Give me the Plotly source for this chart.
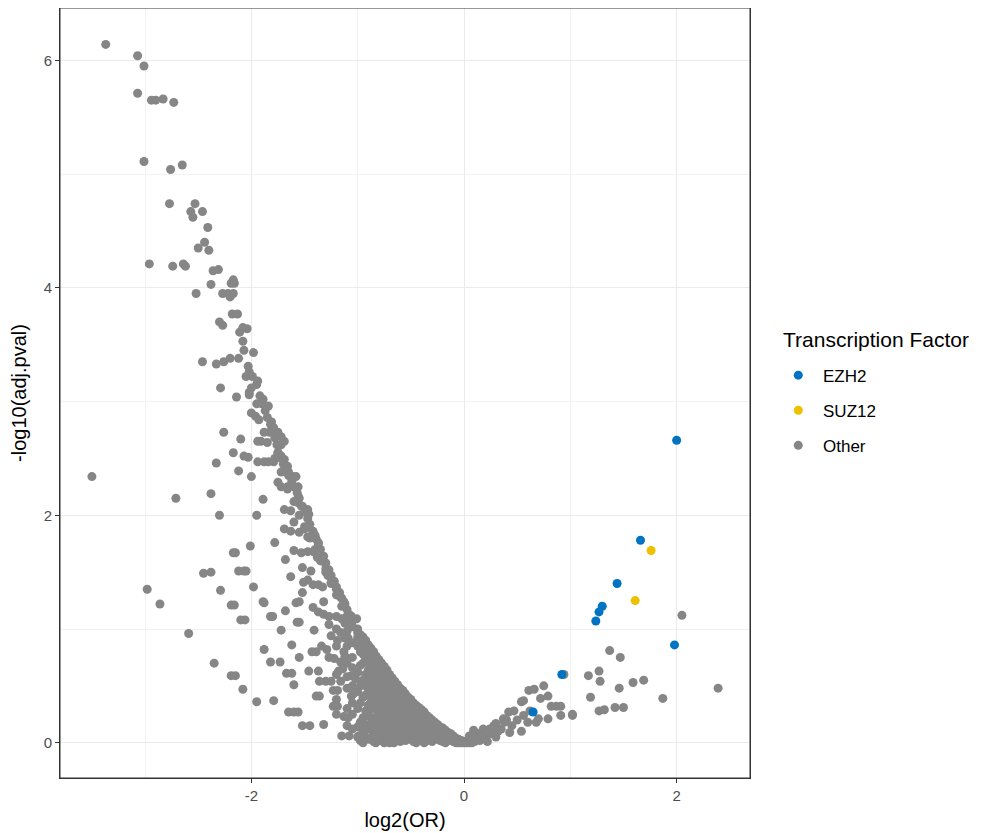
import plotly.graph_objects as go

# ---- Data ----
ezh2_x = [2.00, 1.66, 1.44, 1.30, 1.27, 1.24, 1.98, 0.92, 0.65]
ezh2_y = [2.66, 1.78, 1.40, 1.20, 1.15, 1.07, 0.86, 0.60, 0.27]

suz12_x = [1.76, 1.61]
suz12_y = [1.69, 1.25]

other_pts = [
    (-3.37, 6.14), (-3.07, 6.04), (-3.01, 5.95), (-3.07, 5.71), (-2.94, 5.65), (-2.90, 5.65),
    (-2.83, 5.66), (-2.73, 5.63), (-3.01, 5.11), (-2.76, 5.04), (-2.65, 5.08), (-2.77, 4.74),
    (-2.53, 4.74), (-2.57, 4.67), (-2.55, 4.62), (-2.46, 4.67), (-2.41, 4.53), (-2.44, 4.40),
    (-2.50, 4.35), (-2.40, 4.33), (-2.96, 4.21), (-2.74, 4.19), (-2.64, 4.21), (-2.62, 4.19),
    (-2.36, 4.15), (-2.31, 4.16), (-2.17, 4.07),
    (-2.38, 4.03), (-2.19, 4.04), (-2.16, 4.04), (-2.52, 3.95), (-2.27, 3.95), (-2.22, 3.95),
    (-2.17, 3.95), (-2.20, 3.92), (-2.18, 3.77), (-2.13, 3.77), (-2.30, 3.70), (-2.27, 3.67),
    (-2.08, 3.65), (-2.04, 3.64), (-2.11, 3.61), (-2.08, 3.53), (-2.07, 3.45), (-1.98, 3.43),
    (-2.46, 3.35), (-2.33, 3.33), (-2.26, 3.35), (-2.20, 3.38), (-2.12, 3.38), (-2.03, 3.31),
    (-2.02, 3.26), (-2.05, 3.22), (-1.99, 3.22), (-1.94, 3.18), (-2.29, 3.12), (-2.14, 3.04),
    (-2.00, 3.12), (-2.02, 3.08), (-2.02, 3.06), (-1.89, 3.02), (-1.84, 2.96), (-1.95, 2.98),
    (-2.00, 2.90), (-1.93, 2.84), (-1.96, 2.87),
    (-1.81, 2.82), (-1.79, 2.77), (-1.83, 2.73), (-1.75, 2.73), (-1.72, 2.69), (-1.69, 2.65),
    (-1.88, 2.73), (-1.91, 2.65), (-1.94, 2.65), (-1.85, 2.64), (-1.72, 2.62),
    (-2.26, 2.73), (-2.10, 2.67), (-2.17, 2.55), (-2.33, 2.46), (-2.07, 2.52), (-2.03, 2.51),
    (-1.94, 2.47), (-1.88, 2.47), (-1.84, 2.47), (-1.79, 2.47), (-1.75, 2.55), (-1.72, 2.52),
    (-1.69, 2.49), (-1.66, 2.43), (-1.65, 2.38), (-1.61, 2.34), (-1.58, 2.34), (-2.12, 2.39),
    (-2.00, 2.34), (-1.75, 2.29), (-1.72, 2.25), (-1.66, 2.23), (-1.56, 2.25), (-1.56, 2.17),
    (-1.56, 2.11), (-1.53, 2.08), (-2.38, 2.19), (-1.89, 2.14), (-1.69, 2.05), (-1.63, 2.04),
    (-1.47, 2.05), (-1.46, 2.01), (-2.30, 2.00), (-1.95, 2.00),
    (-3.50, 2.34), (-2.71, 2.15),
    (-1.60, 1.94), (-1.69, 1.88), (-1.63, 1.86), (-1.55, 1.85), (-1.50, 1.88), (-1.46, 1.90),
    (-1.42, 1.85), (-1.47, 1.81), (-1.39, 1.79), (-1.37, 1.75), (-1.78, 1.76), (-2.01, 1.73),
    (-1.60, 1.69), (-1.53, 1.67), (-1.47, 1.68), (-1.42, 1.68), (-1.38, 1.63), (-1.35, 1.61),
    (-1.32, 1.59), (-1.68, 1.61), (-2.17, 1.67), (-2.15, 1.67), (-2.07, 1.51), (-2.05, 1.51),
    (-1.52, 1.54), (-1.44, 1.51), (-1.30, 1.53), (-1.28, 1.47), (-1.63, 1.46), (-2.45, 1.49),
    (-2.38, 1.50), (-2.12, 1.51),
    (-1.51, 1.41), (-1.47, 1.43), (-1.42, 1.39), (-1.37, 1.39), (-1.33, 1.37), (-1.25, 1.41),
    (-1.20, 1.35), (-1.18, 1.31), (-1.98, 1.37), (-2.29, 1.34), (-2.98, 1.35), (-2.86, 1.22),
    (-2.19, 1.21), (-2.16, 1.21), (-1.89, 1.24), (-1.88, 1.23), (-1.58, 1.23), (-1.55, 1.24),
    (-1.52, 1.32), (-1.32, 1.24), (-1.16, 1.28), (-1.13, 1.24),
    (-1.42, 1.19), (-1.37, 1.15), (-1.32, 1.13), (-1.27, 1.11), (-1.20, 1.11), (-1.15, 1.09),
    (-1.10, 1.11), (-1.06, 1.11), (-1.01, 1.09), (-1.82, 1.11), (-1.80, 1.11), (-1.68, 1.16),
    (-2.10, 1.08), (-2.06, 1.08), (-1.57, 1.06), (-1.55, 1.06), (-1.72, 0.99), (-1.41, 0.99),
    (-1.27, 1.04), (-1.25, 0.94), (-1.19, 0.90), (-1.16, 0.97), (-1.09, 0.92), (-1.00, 0.97),
    (-0.97, 0.91),
    (-2.59, 0.96), (-1.88, 0.82), (-1.62, 0.86), (-1.43, 0.80), (-1.39, 0.80), (-1.34, 0.85),
    (-1.29, 0.82), (-1.27, 0.75), (-1.22, 0.74), (-1.16, 0.71), (-1.13, 0.80), (-1.55, 0.75),
    (-1.82, 0.71), (-1.73, 0.71), (-1.67, 0.61), (-1.62, 0.61), (-1.46, 0.63), (-1.37, 0.63),
    (-1.60, 0.51), (-1.36, 0.54), (-1.30, 0.54), (-1.25, 0.54), (-1.23, 0.46), (-1.19, 0.46),
    (-1.16, 0.54), (-1.18, 0.63), (-1.14, 0.65), (-1.06, 0.59), (-1.02, 0.56),
    (-2.35, 0.70), (-2.19, 0.59), (-2.15, 0.59), (-2.08, 0.47), (-1.95, 0.36), (-1.79, 0.37),
    (-1.39, 0.41), (-1.36, 0.41), (-1.06, 0.41), (-1.04, 0.43), (-1.65, 0.27), (-1.60, 0.27),
    (-1.56, 0.27), (-1.23, 0.32), (-1.19, 0.32), (-1.52, 0.15), (-1.45, 0.15), (-1.32, 0.16),
    (-1.09, 0.22), (-1.13, 0.23), (-1.15, 0.06), (-1.08, 0.06), (-0.99, 0.06), (-0.95, 0.00),
    (-0.83, 0.00), (-0.75, 0.00), (-0.66, 0.00),
    # ridge
    (-1.95, 3.15), (-1.92, 3.05), (-1.90, 2.98), (-1.87, 2.92), (-1.85, 2.86), (-1.82, 2.80),
    (-1.80, 2.74), (-1.78, 2.68), (-1.76, 2.62),
    (-1.75, 2.55), (-1.72, 2.50), (-1.70, 2.45), (-1.68, 2.40), (-1.65, 2.35), (-1.62, 2.30),
    (-1.60, 2.25), (-1.57, 2.20), (-1.55, 2.15), (-1.52, 2.08), (-1.50, 2.03), (-1.47, 1.97),
    (-1.45, 1.92), (-1.42, 1.86), (-1.40, 1.82), (-1.37, 1.76), (-1.35, 1.70), (-1.32, 1.64),
    (-1.30, 1.58), (-1.27, 1.52), (-1.25, 1.47), (-1.22, 1.42), (-1.20, 1.37), (-1.17, 1.32),
    (-1.15, 1.27), (-1.12, 1.22), (-1.10, 1.17), (-1.07, 1.12), (-1.05, 1.07),
    (-1.78, 2.50), (-1.72, 2.38), (-1.66, 2.25), (-1.60, 2.12), (-1.55, 2.00), (-1.50, 1.90),
    (-1.45, 1.80), (-1.40, 1.70), (-1.35, 1.60), (-1.30, 1.50), (-1.25, 1.40), (-1.20, 1.30),
    (-1.15, 1.20), (-1.10, 1.10),
    # dense cluster
    (-1.20, 1.00), (-1.20, 0.85), (-1.20, 0.60), (-1.20, 0.38), (-1.20, 0.25),
    (-1.12, 1.05), (-1.12, 0.92), (-1.12, 0.76),
    (-1.10, 0.98), (-1.10, 0.85), (-1.10, 0.70), (-1.10, 0.58), (-1.10, 0.48), (-1.10, 0.30),
    (-1.10, 0.15),
    (-1.05, 1.02), (-1.05, 0.88), (-1.05, 0.75), (-1.05, 0.66), (-1.05, 0.50), (-1.05, 0.35),
    (-1.05, 0.25), (-1.05, 0.12),
    (-1.00, 1.00), (-1.00, 0.93), (-1.00, 0.85), (-1.00, 0.62), (-1.00, 0.45), (-1.00, 0.30),
    (-1.00, 0.14), (-1.00, 0.05),
    (-0.975, 0.95), (-0.975, 0.80), (-0.975, 0.68), (-0.975, 0.50), (-0.975, 0.35),
    (-0.975, 0.18), (-0.975, 0.02),
    (-0.95, 0.93), (-0.95, 0.86), (-0.95, 0.78), (-0.95, 0.70), (-0.95, 0.55), (-0.95, 0.40),
    (-0.95, 0.22), (-0.95, 0.10),
    (-0.925, 0.90), (-0.925, 0.82), (-0.925, 0.74), (-0.925, 0.60), (-0.925, 0.50),
    (-0.925, 0.42), (-0.925, 0.28), (-0.925, 0.16), (-0.925, 0.05),
    (-0.90, 0.86), (-0.90, 0.79), (-0.90, 0.72), (-0.90, 0.64), (-0.90, 0.56), (-0.90, 0.47),
    (-0.90, 0.33), (-0.90, 0.25), (-0.90, 0.12), (-0.90, 0.03),
    (-0.875, 0.83), (-0.875, 0.76), (-0.875, 0.68), (-0.875, 0.60), (-0.875, 0.53),
    (-0.875, 0.44), (-0.875, 0.36), (-0.875, 0.22), (-0.875, 0.14), (-0.875, 0.04),
    (-0.85, 0.80), (-0.85, 0.73), (-0.85, 0.66), (-0.85, 0.58), (-0.85, 0.50), (-0.85, 0.40),
    (-0.85, 0.30), (-0.85, 0.18), (-0.85, 0.08), (-0.85, 0.01),
    (-0.825, 0.76), (-0.825, 0.69), (-0.825, 0.62), (-0.825, 0.55), (-0.825, 0.48),
    (-0.825, 0.39), (-0.825, 0.31), (-0.825, 0.23), (-0.825, 0.15), (-0.825, 0.06),
    (-0.80, 0.73), (-0.80, 0.66), (-0.80, 0.59), (-0.80, 0.52), (-0.80, 0.44), (-0.80, 0.36),
    (-0.80, 0.27), (-0.80, 0.20), (-0.80, 0.11), (-0.80, 0.02),
    (-0.775, 0.70), (-0.775, 0.63), (-0.775, 0.56), (-0.775, 0.48), (-0.775, 0.41),
    (-0.775, 0.33), (-0.775, 0.23), (-0.775, 0.13), (-0.775, 0.05),
    (-0.75, 0.67), (-0.75, 0.60), (-0.75, 0.52), (-0.75, 0.45), (-0.75, 0.38), (-0.75, 0.28),
    (-0.75, 0.17), (-0.75, 0.09), (-0.75, 0.03),
    (-0.725, 0.64), (-0.725, 0.57), (-0.725, 0.50), (-0.725, 0.42), (-0.725, 0.35),
    (-0.725, 0.27), (-0.725, 0.20), (-0.725, 0.11), (-0.725, 0.03),
    (-0.70, 0.60), (-0.70, 0.53), (-0.70, 0.46), (-0.70, 0.39), (-0.70, 0.32), (-0.70, 0.24),
    (-0.70, 0.15), (-0.70, 0.07), (-0.70, 0.00),
    (-0.675, 0.57), (-0.675, 0.50), (-0.675, 0.43), (-0.675, 0.36), (-0.675, 0.29),
    (-0.675, 0.22), (-0.675, 0.14), (-0.675, 0.06),
    (-0.65, 0.54), (-0.65, 0.47), (-0.65, 0.40), (-0.65, 0.33), (-0.65, 0.26), (-0.65, 0.20),
    (-0.65, 0.11), (-0.65, 0.04),
    (-0.625, 0.51), (-0.625, 0.44), (-0.625, 0.37), (-0.625, 0.30), (-0.625, 0.23),
    (-0.625, 0.16), (-0.625, 0.09), (-0.625, 0.02),
    (-0.60, 0.48), (-0.60, 0.41), (-0.60, 0.34), (-0.60, 0.27), (-0.60, 0.19), (-0.60, 0.12),
    (-0.60, 0.06), (-0.60, 0.01),
    (-0.575, 0.46), (-0.575, 0.39), (-0.575, 0.32), (-0.575, 0.25), (-0.575, 0.18),
    (-0.575, 0.11), (-0.575, 0.04),
    (-0.55, 0.43), (-0.55, 0.36), (-0.55, 0.29), (-0.55, 0.22), (-0.55, 0.15), (-0.55, 0.08),
    (-0.55, 0.02),
    (-0.525, 0.40), (-0.525, 0.33), (-0.525, 0.26), (-0.525, 0.19), (-0.525, 0.12),
    (-0.525, 0.05),
    (-0.50, 0.38), (-0.50, 0.31), (-0.50, 0.24), (-0.50, 0.17), (-0.50, 0.10), (-0.50, 0.03),
    (-0.475, 0.35), (-0.475, 0.28), (-0.475, 0.21), (-0.475, 0.14), (-0.475, 0.07),
    (-0.475, 0.01),
    (-0.45, 0.33), (-0.45, 0.26), (-0.45, 0.19), (-0.45, 0.12), (-0.45, 0.05), (-0.45, 0.00),
    (-0.425, 0.31), (-0.425, 0.24), (-0.425, 0.17), (-0.425, 0.10), (-0.425, 0.03),
    (-0.40, 0.29), (-0.40, 0.22), (-0.40, 0.15), (-0.40, 0.08), (-0.40, 0.02),
    (-0.375, 0.27), (-0.375, 0.20), (-0.375, 0.13), (-0.375, 0.06), (-0.375, 0.00),
    (-0.35, 0.24), (-0.35, 0.17), (-0.35, 0.10), (-0.35, 0.04),
    (-0.325, 0.22), (-0.325, 0.15), (-0.325, 0.08), (-0.325, 0.02),
    (-0.30, 0.20), (-0.30, 0.13), (-0.30, 0.06), (-0.30, 0.01),
    (-0.275, 0.18), (-0.275, 0.11), (-0.275, 0.04),
    (-0.25, 0.16), (-0.25, 0.09), (-0.25, 0.03),
    (-0.225, 0.14), (-0.225, 0.08), (-0.225, 0.02),
    (-0.20, 0.13), (-0.20, 0.07), (-0.20, 0.01),
    (-0.175, 0.11), (-0.175, 0.05), (-0.175, 0.00),
    (-0.15, 0.09), (-0.15, 0.03), (-0.125, 0.08), (-0.125, 0.02),
    (-0.10, 0.06), (-0.10, 0.01), (-0.075, 0.04), (-0.075, 0.00),
    (-0.05, 0.03), (-0.05, 0.00), (-0.025, 0.02), (-0.025, 0.00),
    (0.00, 0.01), (0.00, 0.00), (0.025, 0.01), (0.025, 0.00), (0.05, 0.02), (0.05, 0.00),
    (0.075, 0.03), (0.075, 0.00), (0.10, 0.04), (0.10, 0.01),
    # right side
    (2.05, 1.12), (1.37, 0.81), (1.47, 0.75), (0.94, 0.60), (1.17, 0.59), (1.27, 0.63),
    (1.28, 0.54), (1.46, 0.48), (1.59, 0.53), (1.69, 0.55), (2.39, 0.48), (1.19, 0.40),
    (1.87, 0.39), (1.27, 0.28), (1.32, 0.29), (1.42, 0.31), (1.50, 0.31), (1.02, 0.25),
    (0.91, 0.24), (0.75, 0.50), (0.61, 0.46), (0.66, 0.47), (0.54, 0.36), (0.56, 0.37),
    (0.72, 0.39), (0.79, 0.41), (0.42, 0.27), (0.47, 0.28), (0.82, 0.32), (0.87, 0.32),
    (0.91, 0.32), (0.70, 0.21), (0.79, 0.21), (1.02, 0.24), (0.54, 0.10), (0.43, 0.09),
    (0.35, 0.12), (0.32, 0.10), (0.28, 0.15), (0.09, 0.11), (0.18, 0.12), (0.13, 0.08),
    (0.22, 0.01), (0.15, 0.02), (0.20, 0.05), (0.25, 0.08), (0.30, 0.05), (0.38, 0.18),
    (0.40, 0.20), (0.30, 0.17), (0.37, 0.21), (0.56, 0.24), (0.60, 0.18), (0.68, 0.18),
    (0.50, 0.20), (0.45, 0.15), (0.62, 0.28), (0.05, 0.06), (0.08, 0.03), (0.12, 0.04),
    (0.17, 0.07), (0.24, 0.12),
]
other_x = [p[0] for p in other_pts]
other_y = [p[1] for p in other_pts]

x_ticks = [-2, 0, 2]
y_ticks = [0, 2, 4, 6]

COL_EZH2 = "#0073C2"
COL_SUZ12 = "#EFC000"
COL_OTHER = "#868686"
FONT = "Liberation Sans, Arial, Helvetica, sans-serif"

fig = go.Figure()
fig.add_trace(go.Scatter(x=other_x, y=other_y, mode="markers", name="\u00a0Other",
                         legendgroup="c", legendrank=3,
                         marker=dict(color=COL_OTHER, size=9, line=dict(width=0))))
fig.add_trace(go.Scatter(x=ezh2_x, y=ezh2_y, mode="markers", name="\u00a0EZH2",
                         legendgroup="a", legendrank=1,
                         marker=dict(color=COL_EZH2, size=9, line=dict(width=0))))
fig.add_trace(go.Scatter(x=suz12_x, y=suz12_y, mode="markers", name="\u00a0SUZ12",
                         legendgroup="b", legendrank=2,
                         marker=dict(color=COL_SUZ12, size=9, line=dict(width=0))))

axis_common = dict(
    showline=True, mirror=True, linecolor="#333333", linewidth=1,
    ticks="outside", ticklen=4, tickcolor="#333333", tickwidth=1,
    tickfont=dict(family=FONT, size=15, color="#4D4D4D"),
    showgrid=True, gridcolor="#EBEBEB", gridwidth=1.1,
    zeroline=False,
    minor=dict(showgrid=True, gridcolor="#F2F2F2", gridwidth=0.6, ticks=""),
    automargin=False,
)

fig.update_layout(
    width=976, height=825,
    margin=dict(l=52, r=234, t=0, b=55),
    paper_bgcolor="white", plot_bgcolor="white",
    font=dict(family=FONT, color="black"),
    xaxis=dict(range=[-3.80, 2.69], tickvals=x_ticks, ticktext=[str(v) for v in x_ticks],
               minor_tickvals=[-3, -1, 1],
               title=dict(text="log2(OR)", font=dict(family=FONT, size=20), standoff=9),
               **axis_common),
    yaxis=dict(range=[-0.31, 6.46], tickvals=y_ticks, ticktext=[str(v) for v in y_ticks],
               minor_tickvals=[1, 3, 5],
               title=dict(text="-log10(adj.pval)", font=dict(family=FONT, size=20), standoff=12),
               **axis_common),
    legend=dict(
        font=dict(family=FONT, size=17),
        x=1.041, xanchor="left", y=0.546, yanchor="top",
        traceorder="grouped", tracegroupgap=10,
        bgcolor="rgba(0,0,0,0)", itemsizing="trace",
    ),
    annotations=[dict(
        text="Transcription Factor", x=1.045, y=0.569, xref="paper", yref="paper",
        xanchor="left", yanchor="middle", showarrow=False,
        font=dict(family=FONT, size=21, color="black"),
    )],
    shapes=[dict(type="rect", xref="paper", yref="paper", x0=0, y0=0, x1=1, y1=1,
                 line=dict(color="#333333", width=1), fillcolor="rgba(0,0,0,0)", layer="above")],
    showlegend=True,
)

fig.write_html("out.html")
